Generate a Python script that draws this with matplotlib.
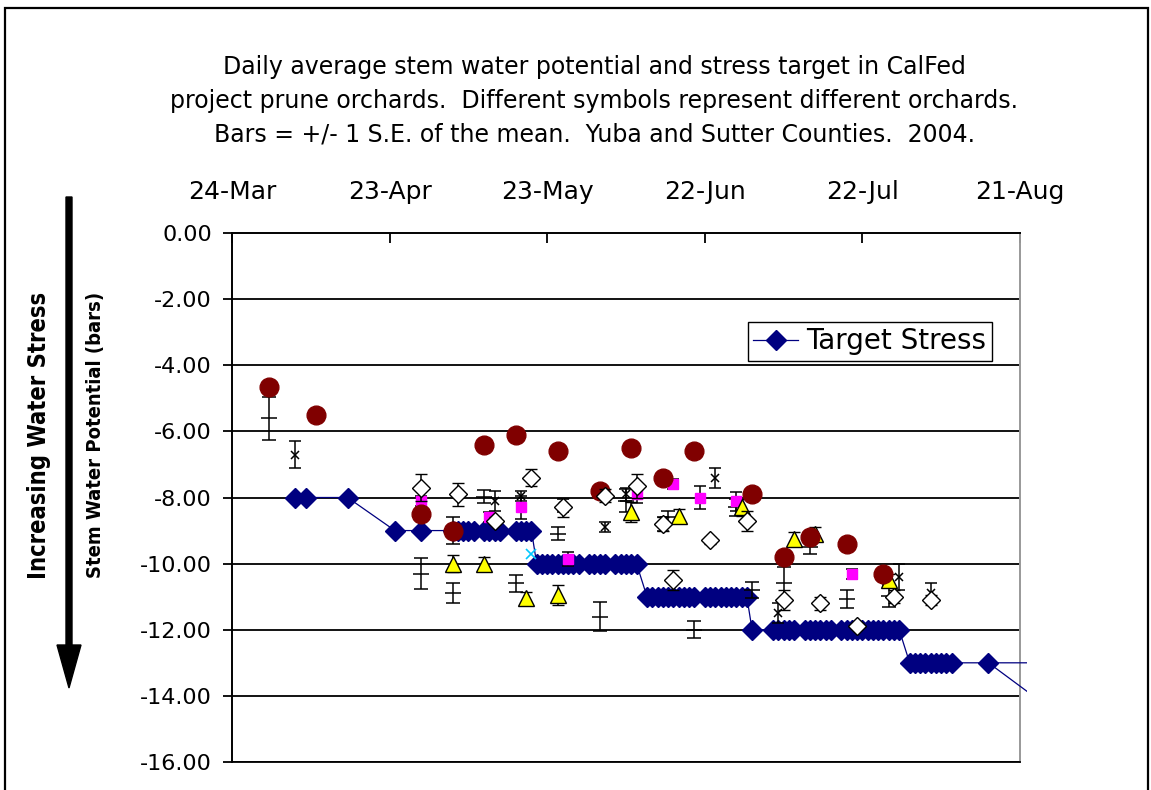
import pandas as pd
import matplotlib
matplotlib.use("Agg")
import matplotlib.pyplot as plt
import matplotlib.dates as mdates
import matplotlib.ticker as mticker
from matplotlib.patches import Rectangle, Polygon
from matplotlib.transforms import Bbox, TransformedBbox

W, H = 1151, 790

# values, dates are month-day in 2004
target_dates = ["04-05", "04-07", "04-15",
                "04-24", "04-29", "05-05", "05-06", "05-07", "05-08", "05-09", "05-11", "05-12",
                "05-13", "05-14", "05-17", "05-18", "05-19", "05-20",
                "05-21", "05-22", "05-23", "05-24", "05-25", "05-26", "05-27", "05-28", "05-29",
                "05-31", "06-01", "06-02", "06-03", "06-05", "06-06", "06-07", "06-08", "06-09",
                "06-11", "06-12", "06-13", "06-14", "06-15", "06-16", "06-17", "06-18", "06-19",
                "06-20", "06-22", "06-23", "06-24", "06-25", "06-26", "06-27", "06-28", "06-29", "06-30",
                "07-01", "07-05", "07-06", "07-07", "07-08", "07-09", "07-11", "07-12", "07-13",
                "07-14", "07-15", "07-16", "07-18", "07-19", "07-20", "07-21", "07-22", "07-23",
                "07-24", "07-25", "07-26", "07-27", "07-28", "07-29",
                "07-31", "08-01", "08-02", "08-03", "08-04", "08-05", "08-06", "08-07", "08-08",
                "08-15", "09-01"]
target_vals = [-8, -8, -8,
               -9, -9, -9, -9, -9, -9, -9, -9, -9,
               -9, -9, -9, -9, -9, -9,
               -10, -10, -10, -10, -10, -10, -10, -10, -10,
               -10, -10, -10, -10, -10, -10, -10, -10, -10,
               -11, -11, -11, -11, -11, -11, -11, -11, -11,
               -11, -11, -11, -11, -11, -11, -11, -11, -11, -11,
               -12, -12, -12, -12, -12, -12, -12, -12, -12,
               -12, -12, -12, -12, -12, -12, -12, -12, -12,
               -12, -12, -12, -12, -12, -12,
               -13, -13, -13, -13, -13, -13, -13, -13, -13,
               -13, -13]
tail_dates = ["08-15", "09-01"]
tail_vals = [-13.0, -15.0]

circle_dates = ["03-31", "04-09", "04-29", "05-05", "05-11", "05-17", "05-25", "06-02",
                "06-08", "06-14", "06-20", "07-01", "07-07", "07-12", "07-19", "07-26"]
circle_vals = [-4.65, -5.5, -8.5, -9.0, -6.4, -6.1, -6.6, -7.8,
               -6.5, -7.4, -6.6, -7.9, -9.8, -9.2, -9.4, -10.3]

tri_dates = ["05-05", "05-11", "05-19", "05-25", "06-08", "06-17", "06-29", "07-09", "07-13", "07-27"]
tri_vals = [-10.0, -10.0, -11.05, -10.95, -8.45, -8.55, -8.3, -9.25, -9.1, -10.5]
tri_err = [0.25, 0.2, 0.2, 0.3, 0.3, 0.2, 0.25, 0.2, 0.2, 0.2]

sq_dates = ["04-29", "05-12", "05-18", "05-27", "06-09", "06-16", "06-21", "06-28", "07-20"]
sq_vals = [-8.1, -8.6, -8.3, -9.86, -7.88, -7.58, -8.0, -8.12, -10.3]
sq_err = [0.15, 0.15, 0.35, 0.2, 0.3, 0.15, 0.35, 0.3, 0.15]

od_dates = ["04-29", "05-06", "05-13", "05-20", "05-26", "06-03", "06-09", "06-14", "06-16",
            "06-23", "06-30", "07-07", "07-14", "07-21", "07-28", "08-04"]
od_vals = [-7.7, -7.9, -8.7, -7.4, -8.3, -7.95, -7.65, -8.8, -10.5,
           -9.3, -8.7, -11.1, -11.2, -11.9, -11.0, -11.1]
od_err = [0.4, 0.35, 0.1, 0.25, 0.3, 0.2, 0.35, 0.2, 0.3,
          0.1, 0.3, 0.3, 0.2, 0.05, 0.2, 0.15]

plus_dates = ["03-31", "04-29", "05-05", "05-05", "05-11", "05-17", "05-25", "06-02", "06-07",
              "06-15", "06-20", "06-28", "07-01", "07-07", "07-12", "07-19", "07-27"]
plus_vals = [-5.6, -10.3, -10.9, -9.0, -7.97, -10.6, -9.1, -11.6, -8.1,
             -8.6, -12.0, -8.3, -10.8, -10.6, -9.5, -11.06, -10.97]
plus_err = [0.65, 0.48, 0.3, 0.4, 0.2, 0.25, 0.2, 0.45, 0.35,
            0.2, 0.25, 0.25, 0.25, 0.5, 0.2, 0.27, 0.33]

x_dates = ["04-05", "05-13", "05-18", "05-26", "06-03", "06-07", "06-14", "06-24", "07-06", "07-29", "08-04"]
x_vals = [-6.7, -8.1, -7.95, -8.25, -8.9, -7.9, -8.8, -7.4, -11.5, -10.4, -10.9]
x_err = [0.4, 0.3, 0.15, 0.2, 0.15, 0.2, 0.2, 0.3, 0.3, 0.4, 0.3]

cyan_dates = ["05-20"]
cyan_vals = [-9.7]

title_lines = ["Daily average stem water potential and stress target in CalFed",
               "project prune orchards.  Different symbols represent different orchards.",
               "Bars = +/- 1 S.E. of the mean.  Yuba and Sutter Counties.  2004."]
tick_dates = ["03-24", "04-23", "05-23", "06-22", "07-22", "08-21"]


def dt(md):
    return pd.to_datetime(["2004-" + s for s in md])


def px(x, y):
    return x / W, 1 - y / H


fig = plt.figure(figsize=(W / 100, H / 100), dpi=100)
ax = fig.add_axes([232 / W, (H - 762) / H, (1020 - 232) / W, (762 - 233) / H])

# target line is allowed to spill a little past the plot edge, as in the original
xmin = mdates.date2num(pd.Timestamp("2004-03-24"))
xmax = mdates.date2num(pd.Timestamp("2004-08-21"))
spill = xmax + 1.3
clipbox = TransformedBbox(Bbox([[xmin, -16], [spill, 0]]), ax.transData)

tl, = ax.plot(dt(target_dates), target_vals, color="#000080", lw=0.9, marker="D", ms=10,
              mfc="#000080", mec="#000080", label="Target Stress", zorder=3)
tl.set_clip_box(clipbox)
tt, = ax.plot(dt(tail_dates), tail_vals, color="#000080", lw=0.9, zorder=3)
tt.set_clip_box(clipbox)

ax.plot(dt(cyan_dates), cyan_vals, ls="none", marker="x", ms=7, mew=1.2, color="#00c8ff", zorder=4)

eb = dict(ls="none", ecolor="black", elinewidth=1.1, capthick=1.1)
ax.errorbar(dt(x_dates), x_vals, yerr=x_err, marker="x", ms=6, mew=1.1, color="black",
            capsize=4, zorder=4, **eb)
ax.errorbar(dt(plus_dates), plus_vals, yerr=plus_err, marker="_", ms=11, mew=1.1, color="black",
            capsize=5, zorder=4, **eb)
ax.errorbar(dt(sq_dates), sq_vals, yerr=sq_err, marker="s", ms=7, mfc="#ff00ff", mec="#ff00ff",
            capsize=4, zorder=5, **eb)
ax.errorbar(dt(tri_dates), tri_vals, yerr=tri_err, marker="^", ms=11, mfc="#ffff00", mec="black",
            mew=1.0, capsize=4, zorder=5, **eb)
ax.plot(dt(circle_dates), circle_vals, ls="none", marker="o", ms=13.5, mfc="#800000",
        mec="#800000", zorder=6)
ax.errorbar(dt(od_dates), od_vals, yerr=od_err, marker="D", ms=9.5, mfc="white", mec="black",
            mew=1.0, capsize=4, zorder=7, **eb)

ax.set_xlim(xmin, xmax)
ax.set_ylim(-16, 0)
ax.xaxis.tick_top()
ax.set_xticks(dt(tick_dates))
ax.xaxis.set_major_formatter(mdates.DateFormatter("%d-%b"))
ax.set_yticks(range(-16, 1, 2))
ax.yaxis.set_major_formatter(mticker.FormatStrFormatter("%.2f"))
ax.tick_params(axis="x", direction="in", length=7, width=1.3, pad=21, labelsize=18, colors="black")
ax.tick_params(axis="y", direction="out", length=6.5, width=1.3, pad=8, labelsize=16)
for y in range(-16, 0, 2):
    ax.axhline(y, color="black", lw=1.3, zorder=1)
for s in ["left", "top"]:
    ax.spines[s].set_linewidth(1.4)
    ax.spines[s].set_color("black")
ax.spines["right"].set_color("#999999")
ax.spines["right"].set_linewidth(1.4)
ax.spines["bottom"].set_linewidth(1.3)

leg = ax.legend(handles=[tl], loc="upper right", bbox_to_anchor=(0.964, 0.832), borderaxespad=0,
                fontsize=20, frameon=True, fancybox=False, edgecolor="black", framealpha=1,
                handlelength=1.6, handletextpad=0.3, borderpad=0.2, numpoints=1)
leg.get_frame().set_linewidth(1.0)

for line, yy in zip(title_lines, [67, 101, 134]):
    fig.text(*px(594, yy), line, ha="center", va="center", fontsize=17)

fig.text(*px(39, 435), "Increasing Water Stress", rotation=90, ha="center", va="center",
         fontsize=17, fontweight="bold", fontstretch="condensed")
fig.text(*px(96, 435), "Stem Water Potential (bars)", rotation=90, ha="center", va="center",
         fontsize=14.5, fontweight="bold", fontstretch="condensed")

# the arrow beside the axis title
arrow = [px(66, 197), px(72, 197), px(72, 645), px(81, 645), px(69, 688),
         px(57, 645), px(66, 645)]
fig.add_artist(Polygon(arrow, closed=True, transform=fig.transFigure, color="black"))

# outer frame
fig.add_artist(Rectangle(px(5, 800), 1143 / W, 792 / H, transform=fig.transFigure,
                         fill=False, lw=1.6, edgecolor="black", clip_on=False))

fig.savefig("out.png", dpi=100)
